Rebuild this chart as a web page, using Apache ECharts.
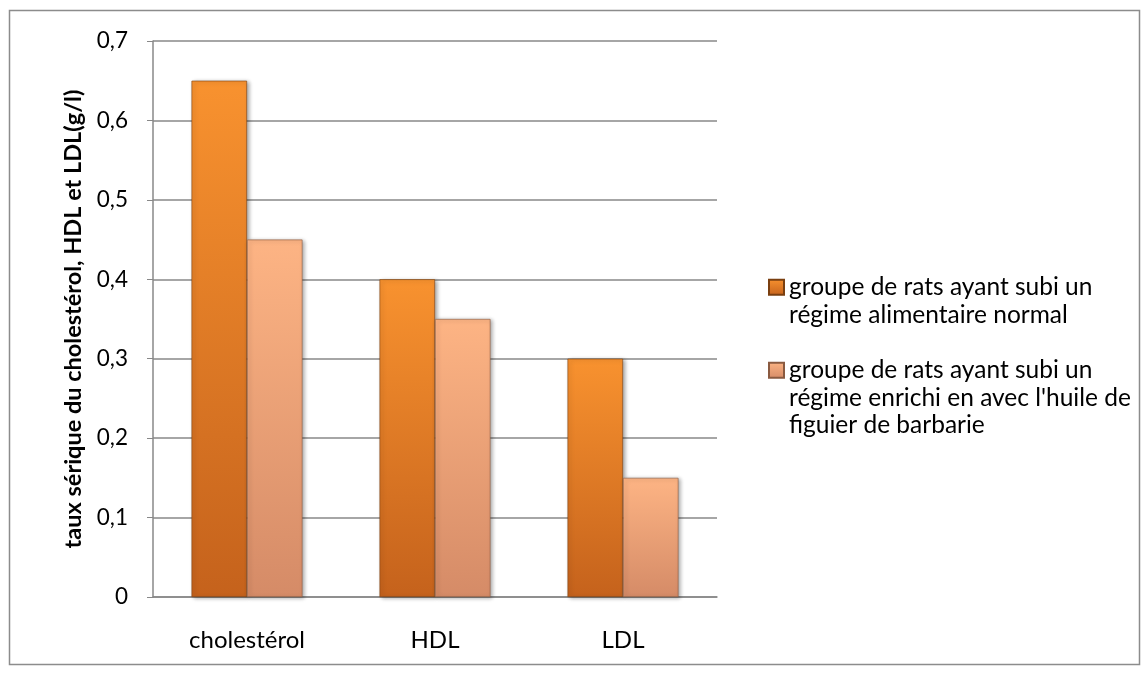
<!DOCTYPE html>
<html>
<head>
<meta charset="utf-8">
<script src="https://cdn.jsdelivr.net/npm/echarts@6/dist/echarts.min.js"></script>
<style>
html,body{margin:0;padding:0;background:#fff;}
#chart{width:1147px;height:677px;}
</style>
</head>
<body>
<div id="chart"></div>
<script>
var categories = ['cholestérol', 'HDL', 'LDL'];
var seriesNames = [
    'groupe de rats ayant subi un\nrégime alimentaire normal',
    'groupe de rats ayant subi un\nrégime enrichi en avec l\'huile de\nfiguier de barbarie'
];
var normalValues = [0.65, 0.40, 0.30];
var enrichedValues = [0.45, 0.35, 0.15];
var yTicks = ['0', '0,1', '0,2', '0,3', '0,4', '0,5', '0,6', '0,7'];

var font = 'Lato, "Open Sans", sans-serif';

function grad(top, bottom) {
    return new echarts.graphic.LinearGradient(0, 0, 0, 1, [
        {offset: 0, color: top},
        {offset: 1, color: bottom}
    ]);
}

var myChart = echarts.init(document.getElementById('chart'));
var option = {
    animation: false,
    textStyle: {fontFamily: font},
    graphic: [{
        type: 'rect',
        shape: {x: 9.5, y: 10.5, width: 1130, height: 654},
        style: {fill: null, stroke: '#8c8c8c', lineWidth: 1.5},
        silent: true
    }],
    grid: {
        left: 153,
        right: 430,
        top: 41,
        bottom: 80
    },
    legend: {
        orient: 'vertical',
        left: 763,
        top: 241,
        itemWidth: 15,
        itemHeight: 15,
        itemGap: -27,
        icon: 'rect',
        textStyle: {fontSize: 24.5, lineHeight: 27.5, color: '#000', fontFamily: font},
        // blank lines on top keep the marker level with the first line
        formatter: function (name) {
            var lines = name.split('\n').length;
            return new Array(lines).join('\n') + name;
        },
        data: seriesNames
    },
    xAxis: {
        type: 'category',
        data: categories,
        axisLine: {lineStyle: {color: '#888', width: 1.5}},
        axisTick: {show: false},
        axisLabel: {fontSize: 24, color: '#000', margin: 31, fontFamily: font}
    },
    yAxis: {
        type: 'value',
        min: 0,
        max: 0.7,
        interval: 0.1,
        name: 'taux sérique du cholestérol, HDL et LDL(g/l)',
        nameLocation: 'middle',
        nameGap: 68,
        nameTextStyle: {fontSize: 23.5, fontWeight: 'bold', color: '#000', fontFamily: font},
        axisLine: {show: true, lineStyle: {color: '#888', width: 1.5}},
        axisTick: {show: true, length: 6, lineStyle: {color: '#888'}},
        axisLabel: {
            fontSize: 22.5,
            color: '#000',
            margin: 25,
            fontFamily: font,
            formatter: function (v) {
                return yTicks[Math.round(v * 10)];
            }
        },
        splitLine: {lineStyle: {color: '#888', width: 1.5}}
    },
    series: [
        {
            name: seriesNames[0],
            type: 'bar',
            data: normalValues,
            barGap: '0%',
            barCategoryGap: '41%',
            itemStyle: {
                color: grad('#f8922f', '#c5621c'),
                borderColor: '#7a3f10',
                borderWidth: 0.6,
                shadowColor: 'rgba(0,0,0,0.35)',
                shadowBlur: 4,
                shadowOffsetX: 2,
                shadowOffsetY: 1
            }
        },
        {
            name: seriesNames[1],
            type: 'bar',
            data: enrichedValues,
            itemStyle: {
                color: grad('#fdb484', '#d58b67'),
                borderColor: '#8a5a40',
                borderWidth: 0.6,
                shadowColor: 'rgba(0,0,0,0.35)',
                shadowBlur: 4,
                shadowOffsetX: 2,
                shadowOffsetY: 1
            }
        }
    ]
};
myChart.setOption(option);
</script>
</body>
</html>
